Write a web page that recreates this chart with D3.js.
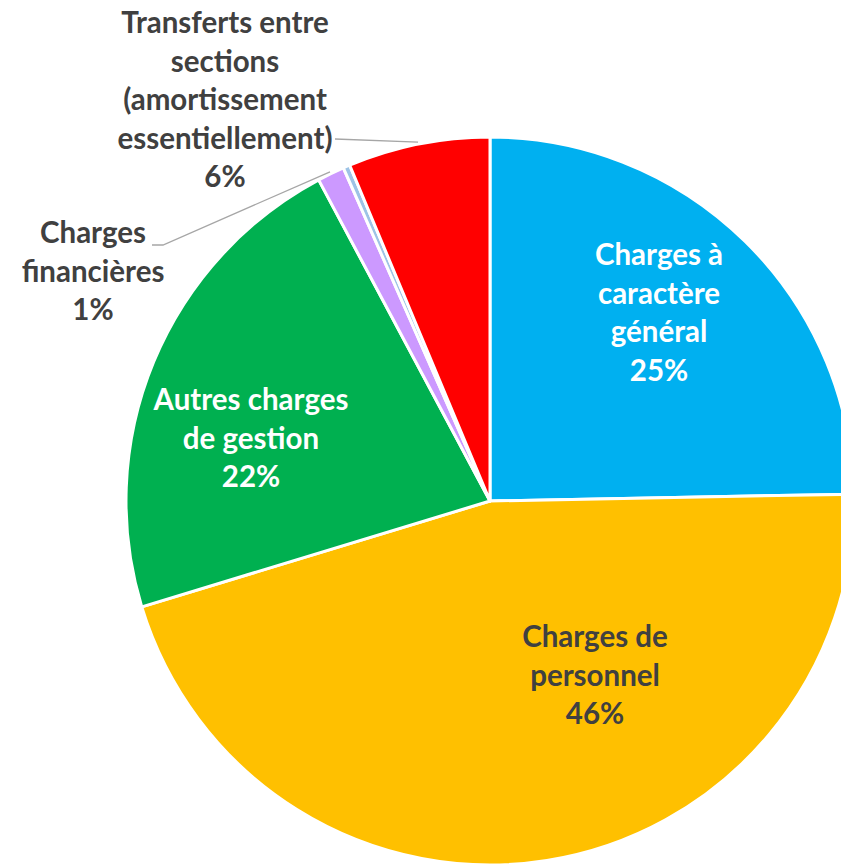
<!DOCTYPE html>
<html>
<head>
<meta charset="utf-8">
<script src="https://cdn.jsdelivr.net/npm/d3@7"></script>
<style>
  body { margin: 0; background: #fff; }
  svg text { font-family: Lato, "Open Sans", sans-serif; font-weight: bold; }
</style>
</head>
<body>
<div id="chart"></div>
<script>
// data
const categories = ["Charges à caractère général", "Charges de personnel", "Autres charges de gestion",
  "Charges financières", "Autres", "Transferts entre sections (amortissement essentiellement)"];
const values = [24.7, 45.6, 21.9, 1.2, 0.3, 6.3];
const pctLabels = ["25%", "46%", "22%", "1%", "", "6%"];
const labelLines = [
  ["Charges à", "caractère", "général"],
  ["Charges de", "personnel"],
  ["Autres charges", "de gestion"],
  ["Charges", "financières"],
  [],
  ["Transferts entre", "sections", "(amortissement", "essentiellement)"]
];
const colors = ["#00B0F0", "#FFC000", "#00B050", "#CC99FF", "#9DC3E6", "#FF0000"];

// layout
const width = 841, height = 866;
const cx = 490, cy = 501, radius = 364;
const lineGap = 38.5;
const fontSize = 29.5;
// label block: center x, first baseline, text colour
const labelPos = [
  { x: 659, y: 265, fill: "#fff" },
  { x: 595, y: 647, fill: "#404040" },
  { x: 251, y: 410, fill: "#fff" },
  { x: 93, y: 243, fill: "#404040" },
  null,
  { x: 225, y: 33, fill: "#404040" }
];

const svg = d3.select("#chart").append("svg")
  .attr("width", width).attr("height", height);

const pie = d3.pie().sort(null).value(d => d)(values);
const arc = d3.arc().innerRadius(0).outerRadius(radius);

const g = svg.append("g").attr("transform", `translate(${cx},${cy})`);

g.selectAll("path")
  .data(pie)
  .join("path")
  .attr("d", arc)
  .attr("fill", (d, i) => colors[i])
  .attr("stroke", "#fff")
  .attr("stroke-width", 3)
  .attr("stroke-linejoin", "round");

// leader lines for outside labels
function edgePoint(i, frac) {
  const d = pie[i];
  const a = d.startAngle + (d.endAngle - d.startAngle) * frac;
  return [cx + (radius + 2) * Math.sin(a), cy - (radius + 2) * Math.cos(a)];
}
const finPt = edgePoint(3, 0.5);
svg.append("polyline")
  .attr("points", [[152, 245], [163, 245], finPt].map(p => p.join(",")).join(" "))
  .attr("fill", "none").attr("stroke", "#A6A6A6").attr("stroke-width", 1.3);
const trPt = edgePoint(5, 0.5);
svg.append("polyline")
  .attr("points", [[335, 139], trPt].map(p => p.join(",")).join(" "))
  .attr("fill", "none").attr("stroke", "#A6A6A6").attr("stroke-width", 1.3);

// labels
labelPos.forEach((p, i) => {
  if (!p) return;
  const lines = labelLines[i].concat([pctLabels[i]]);
  const t = svg.append("text")
    .attr("text-anchor", "middle")
    .attr("font-size", fontSize)
    .attr("fill", p.fill);
  lines.forEach((ln, k) => {
    t.append("tspan").attr("x", p.x).attr("y", p.y + k * lineGap).text(ln);
  });
});
</script>
</body>
</html>
